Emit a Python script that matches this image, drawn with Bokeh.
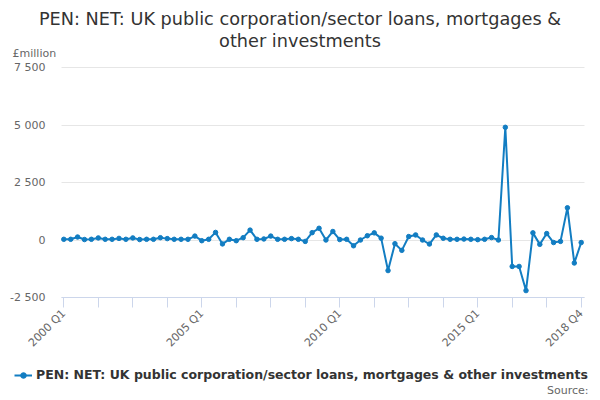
import math
from bokeh.plotting import figure
from bokeh.models import (Range1d, FixedTicker, Legend, LegendItem, Label, Grid,
                          ColumnDataSource)
from bokeh.embed import file_html
from bokeh.resources import INLINE

# ---------------- data ----------------
years = list(range(2000, 2019))
quarters = [f"{y} Q{q}" for y in years for q in range(1, 5)]

values = [
    30, 30, 130, 20, 30, 90, 30, 30, 70, 30,          # 2000 Q1 - 2002 Q2
    90, 20, 30, 30, 100, 60, 30, 30, 30, 170,         # 2002 Q3 - 2004 Q4
    -30, 30, 330, -170, 30, -30, 100, 430, 30, 45,    # 2005 Q1 - 2007 Q2
    170, 30, 30, 60, 30, -60, 320, 510, 0, 370,       # 2007 Q3 - 2009 Q4
    20, 30, -250, 0, 185, 310, 80, -1330, -160, -450, # 2010 Q1 - 2012 Q2
    150, 220, 0, -175, 220, 75, 30, 30, 40, 30,       # 2012 Q3 - 2014 Q4
    15, 30, 105, 0, 4900, -1150, -1150, -2200, 310, -190,  # 2015 Q1 - 2017 Q2
    280, -110, -60, 1400, -1000, -110,                # 2017 Q3 - 2018 Q4
]

series_name = "PEN: NET: UK public corporation/sector loans, mortgages & other investments"
title_lines = ["PEN: NET: UK public corporation/sector loans, mortgages &",
               "other investments"]
y_unit = "£million"
source_text = "Source:"

x_tick_every = 5
x_labelled = ["2000 Q1", "2005 Q1", "2010 Q1", "2015 Q1", "2018 Q4"]
y_ticks = [-2500, 0, 2500, 5000, 7500]
y_tick_labels = ["-2 500", "0", "2 500", "5 000", "7 500"]

# ---------------- layout geometry (pixels) ----------------
FONT = "DejaVu Sans"
BLUE = "#127dc2"
GREY_TXT = "#666666"
DARK_TXT = "#333333"
W, H = 600, 400
PLOT_L, PLOT_R = 61, 584          # plot area left / right edge
X_FIRST, X_LAST = 63.3, 580.7     # pixel of first / last category
Y_TOP, Y_BOT = 67, 297            # pixel of top / bottom y tick

n = len(quarters)
kx = (X_LAST - X_FIRST) / (n - 1)
ky = (Y_BOT - Y_TOP) / (y_ticks[-1] - y_ticks[0])
x_start = -X_FIRST / kx
x_end = (n - 1) + (W - X_LAST) / kx
y_end = y_ticks[-1] + Y_TOP / ky
y_start = y_ticks[0] - (H - Y_BOT) / ky
plot_x0 = (PLOT_L - X_FIRST) / kx
plot_x1 = (n - 1) + (PLOT_R - X_LAST) / kx

idx = list(range(n))
src = ColumnDataSource(dict(x=idx, y=values, q=quarters))

p = figure(width=W, height=H, output_backend="svg", toolbar_location=None,
           x_range=Range1d(x_start, x_end), y_range=Range1d(y_start, y_end),
           min_border=0)
p.outline_line_color = None

# y axis (drawn at the plot area's left edge, taking no border space)
p.yaxis.fixed_location = plot_x0
p.yaxis.ticker = FixedTicker(ticks=y_ticks)
p.yaxis.major_label_overrides = dict(zip(y_ticks, y_tick_labels))
p.yaxis.axis_line_color = None
p.yaxis.major_tick_line_color = None
p.yaxis.minor_tick_line_color = None
p.yaxis.major_tick_out = 0
p.yaxis.major_tick_in = 0
p.yaxis.major_label_standoff = 16
p.yaxis.major_label_text_font = FONT
p.yaxis.major_label_text_font_size = "11px"
p.yaxis.major_label_text_color = GREY_TXT

# x axis (drawn at y = -2500)
xt = list(range(0, n, x_tick_every))
p.xaxis.fixed_location = y_ticks[0]
p.xaxis.bounds = (plot_x0, plot_x1)
p.xaxis.ticker = FixedTicker(ticks=xt)
overrides = {i: "" for i in xt}
for lab in x_labelled:
    overrides[quarters.index(lab)] = lab
p.xaxis.major_label_overrides = overrides
p.xaxis.axis_line_color = "#ccd6eb"
p.xaxis.major_tick_line_color = "#ccd6eb"
p.xaxis.minor_tick_line_color = None
p.xaxis.major_tick_out = 10
p.xaxis.major_tick_in = 0
p.xaxis.major_label_orientation = math.pi / 4
p.xaxis.major_label_standoff = 4
p.xaxis.major_label_text_font = FONT
p.xaxis.major_label_text_font_size = "11px"
p.xaxis.major_label_text_color = GREY_TXT

# grid
p.xgrid.grid_line_color = None
p.ygrid.ticker = FixedTicker(ticks=y_ticks)
p.ygrid.grid_line_color = "#e6e6e6"
if "cross_bounds" in Grid.properties():
    p.ygrid.cross_bounds = (plot_x0, plot_x1)
else:
    p.ygrid.grid_line_color = None
    p.segment(x0=[plot_x0] * len(y_ticks), x1=[plot_x1] * len(y_ticks),
              y0=y_ticks, y1=y_ticks, line_color="#e6e6e6", line_width=1,
              level="underlay")

# series
ln = p.line("x", "y", source=src, line_color=BLUE, line_width=2)
pts = p.scatter("x", "y", source=src, size=4.5, color=BLUE)

legend = Legend(items=[LegendItem(label=series_name, renderers=[ln, pts])],
                location=(14, H - 382), orientation="horizontal",
                label_text_font=FONT, label_text_font_size="12.5px",
                label_text_font_style="bold", label_text_color=DARK_TXT,
                glyph_width=18, glyph_height=14, label_standoff=4,
                padding=0, margin=0, border_line_color=None,
                background_fill_alpha=0)
p.add_layout(legend, "center")

# titles / notes (screen pixels from the canvas' bottom-left)
def note(text, x, y_from_top, size, color, align):
    p.add_layout(Label(x=x, y=H - y_from_top, x_units="screen", y_units="screen",
                       text=text, text_align=align, text_baseline="middle",
                       text_font=FONT, text_font_size=size, text_color=color))

note(title_lines[0], W / 2 - 0.5, 18, "17.7px", DARK_TXT, "center")
note(title_lines[1], W / 2 - 0.5, 40, "17.7px", DARK_TXT, "center")
note(y_unit, 12, 53, "11px", GREY_TXT, "left")
note(source_text, 588, 390, "11px", GREY_TXT, "right")

open("out.html", "w").write(file_html(p, INLINE))
